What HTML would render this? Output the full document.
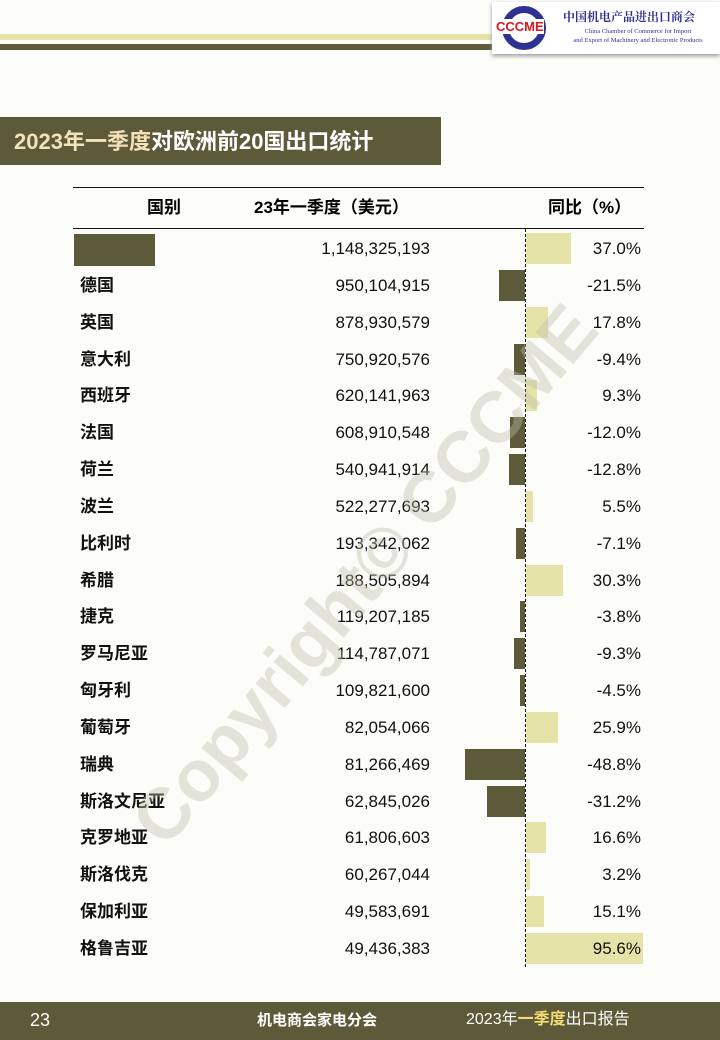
<!DOCTYPE html><html><head><meta charset="utf-8"><style>
body{margin:0;width:720px;height:1040px;background:#fcfcf8;position:relative;overflow:hidden;font-family:"Liberation Sans","Noto Sans CJK SC",sans-serif}
.a{position:absolute}
.name,.num,.pct{position:absolute;font-size:17px;color:#111;line-height:22px;height:22px}
.name{left:80px;font-weight:bold}
.num{right:290px}
.pct{right:79px}
.bar{position:absolute;height:31px}
</style></head><body>
<div class="a" style="left:0;top:34px;width:500px;height:6px;background:#e6e3a8"></div>
<div class="a" style="left:0;top:44px;width:500px;height:6px;background:#5d5a3a"></div>
<div class="a" style="left:492px;top:2px;width:228px;height:52px;background:#fff;box-shadow:0 2px 4px #999"></div>
<div class="a" style="left:502px;top:6px;width:44px;height:44px;border-radius:50%;border:7px solid #2e3192;box-sizing:border-box"></div>
<div class="a" style="left:496px;top:19px;font:bold 13px 'Liberation Sans',sans-serif;color:#d71920;background:#fff">CCCME</div>
<div class="a" style="left:563px;top:8px;font:bold 12px 'Noto Serif CJK SC',serif;color:#2e3192">中国机电产品进出口商会</div>
<div class="a" style="left:558px;top:27px;width:160px;text-align:center;font:6.5px 'Liberation Serif',serif;color:#2e3192;line-height:9px">China Chamber of Commerce for Import<br>and Export of Machinery and Electronic Products</div>
<div class="a" style="left:0;top:117px;width:441px;height:48px;background:#5d5a3a"></div>
<div class="a" style="left:14px;top:128px;font-weight:bold;font-size:22px;line-height:28px;color:#fff"><span style="color:#f3e2b8">2023年一季度</span>对欧洲前20国出口统计</div>
<div class="a" style="left:73px;top:187px;width:571px;height:1px;background:#111"></div>
<div class="a" style="left:73px;top:228px;width:571px;height:1px;background:#111"></div>
<div class="a" style="left:147px;top:197px;font-weight:bold;font-size:17px;line-height:22px">国别</div>
<div class="a" style="left:254px;top:197px;font-weight:bold;font-size:17px;line-height:22px">23年一季度（美元）</div>
<div class="a" style="left:548px;top:197px;font-weight:bold;font-size:17px;line-height:22px">同比（%）</div>
<div class="a" style="left:74px;top:234px;width:81px;height:32px;background:#5d5a3a"></div>
<div id="rows"></div>
<div class="a" style="left:525px;top:229px;height:738px;border-left:1px dashed #111"></div>
<div class="a" style="left:365px;top:575px;transform:translate(-50%,-50%) rotate(-50deg);font-weight:bold;font-size:72px;color:rgba(190,190,170,0.4);white-space:nowrap">Copyright© CCCME</div>
<div class="a" style="left:0;top:1002px;width:720px;height:38px;background:#5d5a3a"></div>
<div class="a" style="left:30px;top:1009px;color:#fff;font-size:18px;line-height:22px">23</div>
<div class="a" style="left:257px;top:1010px;color:#fff;font-size:15px;line-height:22px;font-weight:bold">机电商会家电分会</div>
<div class="a" style="left:466px;top:1009px;color:#fff;font-size:16px;line-height:22px">2023年<b style="color:#f6dc76">一季度</b>出口报告</div>
<script>
var d=[["","1,148,325,193",37.0],["德国","950,104,915",-21.5],["英国","878,930,579",17.8],["意大利","750,920,576",-9.4],["西班牙","620,141,963",9.3],["法国","608,910,548",-12.0],["荷兰","540,941,914",-12.8],["波兰","522,277,693",5.5],["比利时","193,342,062",-7.1],["希腊","188,505,894",30.3],["捷克","119,207,185",-3.8],["罗马尼亚","114,787,071",-9.3],["匈牙利","109,821,600",-4.5],["葡萄牙","82,054,066",25.9],["瑞典","81,266,469",-48.8],["斯洛文尼亚","62,845,026",-31.2],["克罗地亚","61,806,603",16.6],["斯洛伐克","60,267,044",3.2],["保加利亚","49,583,691",15.1],["格鲁吉亚","49,436,383",95.6]];
var h="";d.forEach(function(r,i){var c=249+36.84*i;var w=Math.abs(r[2])*1.22;var l=r[2]>=0?526:525-w;
h+='<div class="bar" style="top:'+(c-16)+'px;left:'+l+'px;width:'+w+'px;background:'+(r[2]>=0?'#e6e3a8':'#5d5a3a')+'"></div>';
h+='<div class="name" style="top:'+(c-11)+'px">'+r[0]+'</div><div class="num" style="top:'+(c-11)+'px">'+r[1]+'</div><div class="pct" style="top:'+(c-11)+'px">'+r[2].toFixed(1)+'%</div>';});
document.getElementById("rows").innerHTML=h;
</script>
</body></html>
